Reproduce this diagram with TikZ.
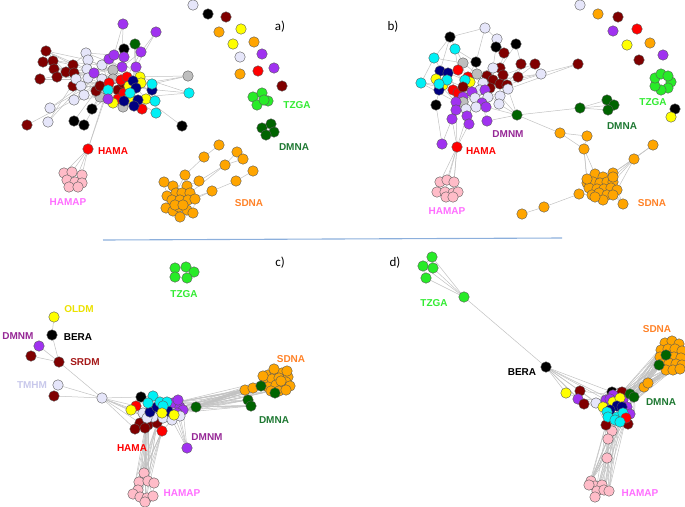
\documentclass[tikz,border=0pt]{standalone}
\usepackage{fontspec}
\setmainfont{Liberation Sans}
\newfontfamily\pnlfont{Carlito}
\usetikzlibrary{backgrounds}

\definecolor{dred}{RGB}{128,0,0}
\definecolor{lav}{RGB}{230,230,250}
\definecolor{purp}{RGB}{160,50,240}
\definecolor{navy}{RGB}{0,0,128}
\definecolor{cyn}{RGB}{0,240,245}
\definecolor{gry}{RGB}{190,190,190}
\definecolor{yel}{RGB}{255,255,0}
\definecolor{rd}{RGB}{255,0,0}
\definecolor{org}{RGB}{255,165,0}
\definecolor{grn}{RGB}{40,235,40}
\definecolor{dgrn}{RGB}{0,100,0}
\definecolor{pnk}{RGB}{255,188,200}
\definecolor{blk}{RGB}{0,0,0}
\definecolor{tHAMAP}{RGB}{255,110,255}
\definecolor{tTZGA}{RGB}{50,235,50}
\definecolor{tDMNA}{RGB}{30,120,50}
\definecolor{tSDNA}{RGB}{255,130,40}
\definecolor{tDMNM}{RGB}{150,40,150}
\definecolor{tSRDM}{RGB}{165,25,25}
\definecolor{tTMHM}{RGB}{200,200,235}
\definecolor{tOLDM}{RGB}{235,225,0}
\definecolor{sepblue}{RGB}{140,175,220}

\tikzset{
  nd/.style={circle, draw=black!65, line width=0.4pt, inner sep=0pt, minimum size=10.5pt},
  lnk/.style={black!24, line width=0.5pt},
  lbl/.style={font=\bfseries\fontsize{10}{12}\selectfont, inner sep=0pt},
  pnl/.style={font=\pnlfont\fontsize{13}{15}\selectfont, inner sep=0pt},
}

\begin{document}
\begin{tikzpicture}[x=1pt, y=-1pt]
\useasboundingbox (0,0) rectangle (685,506);

% ---------- a)
\foreach \n/\x/\y/\c in {1/123/24/purp, 2/156/32/purp, 3/124/49/blk, 4/135/44/dgrn, 5/141/52/purp,
  6/46/51/dred, 7/43/62/dred, 8/53/61/dred, 9/54/69/dred, 10/40/79/dred, 11/57/77/dred,
  12/66/72/dred, 13/73/65/dred, 14/74/73/dred, 15/73/86/dred, 16/86/53/lav, 17/88/60/lav,
  18/102/65/lav, 19/87/69/lav, 20/76/79/lav, 21/81/86/lav, 22/88/78/lav, 23/102/79/lav,
  24/74/100/lav, 25/84/95/lav, 26/50/108/lav, 27/48/122/lav, 28/27/125/dred, 29/92/109/blk,
  30/74/121/blk, 31/84/125/blk, 32/109/59/purp, 33/114/55/purp, 34/124/57/purp, 35/94/73/purp,
  36/122/67/purp, 37/136/67/purp, 38/113/70/gry, 39/113/79/gry, 40/100/97/gry, 41/123/107/gry,
  42/188/76/gry, 43/96/91/dred, 44/118/90/dred, 45/123/83/dred, 46/100/86/dred, 47/109/83/rd,
  48/121/80/rd, 49/127/77/rd, 50/118/99/rd, 51/124/93/rd, 52/142/109/rd, 53/140/77/yel,
  54/141/83/yel, 55/129/86/yel, 56/113/103/yel, 57/146/99/yel, 58/129/98/yel, 59/133/81/navy,
  60/152/90/navy, 61/136/88/navy, 62/124/101/navy, 63/138/100/navy, 64/134/106/navy,
  65/152/84/cyn, 66/108/90/cyn, 67/130/93/cyn, 68/155/101/cyn, 69/156/113/cyn, 70/189/93/cyn,
  71/108/99/purp, 73/182/126/blk, 74/88/149/rd}
  \node[nd, fill=\c] (a\n) at (\x,\y) {};
\foreach \n/\x/\y in {1/64/173, 2/72/172, 3/82/175, 4/67/180, 5/75/182, 6/82/183, 7/69/187, 8/78/187}
  \node[nd, fill=pnk] (ap\n) at (\x,\y) {};
\foreach \n/\x/\y/\c in {1/193/5/lav, 2/208/14/blk, 3/226/17/dred, 4/219/32/org, 5/241/29/yel,
  6/233/44/yel, 7/254/42/org, 8/240/57/lav, 9/262/54/purp, 10/240/74/org, 11/258/71/rd,
  12/274/68/purp, 13/282/86/dred}
  \node[nd, fill=\c] (ai\n) at (\x,\y) {};
\foreach \n/\x/\y in {1/253/97, 2/262/93, 3/268/101, 4/257/105, 5/264/100}
  \node[nd, fill=grn] (at\n) at (\x,\y) {};
\foreach \n/\x/\y in {1/262/128, 2/271/124, 3/274/132, 4/266/135}
  \node[nd, fill=dgrn] (ad\n) at (\x,\y) {};
\foreach \n/\x/\y in {1/164/182, 2/173/186, 3/199/181, 4/187/186, 5/167/196, 6/176/193, 7/182/193,
  8/190/193, 9/172/200, 10/180/200, 11/188/200, 12/195/199, 13/166/208, 14/173/211, 15/179/207,
  16/187/210, 17/193/213, 18/180/217, 19/175/205, 20/183/205}
  \node[nd, fill=org] (sa\n) at (\x,\y) {};
\foreach \n/\x/\y in {1/219/145, 2/204/157, 3/185/175, 4/237/152, 5/243/159, 6/225/165,
  7/253/171, 8/236/181, 9/212/191}
  \node[nd, fill=org] (sc\n) at (\x,\y) {};

\node[pnl] at (280,27) {a)};
\node[lbl, text=tTZGA] at (297,105) {TZGA};
\node[lbl, text=tDMNA] at (294,147) {DMNA};
\node[lbl, text=tSDNA] at (249,203) {SDNA};
\node[lbl, text=rd] at (113,151) {HAMA};
\node[lbl, text=tHAMAP] at (68,202) {HAMAP};

% ---------- b)
\foreach \n/\x/\y/\c in {1/485/28/lav, 2/497/39/lav, 3/450/37/blk, 4/496/47/blk, 5/516/44/blk,
  6/504/53/dred, 7/434/58/cyn, 8/455/49/cyn, 9/463/63/gry, 10/476/62/blk, 11/521/64/dred,
  12/535/64/dred, 13/578/64/dred, 14/541/74/lav, 15/518/77/dred, 16/487/76/dred, 17/500/68/dred,
  18/503/75/dred, 19/493/80/dred, 20/500/84/dred, 21/490/88/dred, 22/507/85/dred, 23/493/68/lav,
  24/508/89/lav, 25/440/71/navy, 26/448/73/navy, 28/436/79/yel, 29/421/83/cyn, 30/443/85/yel,
  31/439/90/navy, 27/447/80/cyn, 32/439/84/cyn, 33/458/70/rd, 34/468/77/rd, 35/470/82/yel,
  36/465/80/cyn, 37/453/90/rd, 38/458/93/rd, 39/463/87/dred, 40/477/74/gry, 41/483/83/lav,
  42/480/90/lav, 43/472/92/purp, 44/485/90/purp, 45/475/98/lav, 46/463/97/purp, 47/463/102/gry,
  48/456/102/purp, 49/488/97/lav, 50/500/96/lav, 51/482/103/purp, 52/476/107/lav, 53/466/109/lav,
  54/486/107/purp, 55/499/104/lav, 56/456/110/purp, 57/436/105/blk, 58/452/119/purp,
  59/467/116/purp, 60/469/124/purp, 61/487/121/purp, 62/517/115/dgrn, 63/580/108/dgrn,
  64/607/100/dgrn, 65/614/105/dgrn, 66/608/110/dgrn, 67/442/144/purp, 68/457/147/rd}
  \node[nd, fill=\c] (b\n) at (\x,\y) {};
\foreach \n/\x/\y in {1/440/182, 2/447/180, 3/454/182, 4/437/192, 5/445/192, 6/453/193,
  7/458/192, 8/446/197, 9/453/197}
  \node[nd, fill=pnk] (bp\n) at (\x,\y) {};
\foreach \n/\x/\y/\c in {1/580/5/lav, 2/598/14/org, 3/618/17/dred, 4/613/31/purp, 5/637/29/rd,
  6/627/45/yel, 7/650/43/org, 8/639/60/dred, 9/663/55/purp, 10/675/109/blk, 11/671/117/yel}
  \node[nd, fill=\c] (bi\n) at (\x,\y) {};
\foreach \n/\x/\y in {1/671/82, 2/668/88, 3/661/90, 4/655/86, 5/655/78, 6/661/74, 7/668/76}
  \node[nd, fill=grn] (bt\n) at (\x,\y) {};
\foreach \n/\x/\y in {1/595/174, 2/603/177, 3/613/173, 4/587/183, 5/593/182, 6/600/183,
  7/607/182, 8/613/182, 9/589/188, 10/597/189, 11/604/189, 12/611/188, 13/617/190, 14/592/195,
  15/599/193, 16/607/195, 17/613/195, 18/603/200, 19/595/197, 20/587/179, 21/613/177}
  \node[nd, fill=org] (bs\n) at (\x,\y) {};
\foreach \n/\x/\y in {1/560/133, 2/587/136, 3/584/149, 4/653/145, 5/634/159, 6/579/194,
  7/544/207, 8/522/214, 9/623/204}
  \node[nd, fill=org] (bo\n) at (\x,\y) {};

\node[pnl] at (393,27) {b)};
\node[lbl, text=tTZGA] at (653,102) {TZGA};
\node[lbl, text=tDMNA] at (622,126) {DMNA};
\node[lbl, text=tDMNM] at (508,134) {DMNM};
\node[lbl, text=rd] at (481,151) {HAMA};
\node[lbl, text=tHAMAP] at (447,211) {HAMAP};
\node[lbl, text=tSDNA] at (652,203) {SDNA};

\draw[sepblue, line width=1.1pt] (103,240) -- (562,238);

% ---------- c)
\foreach \n/\x/\y in {1/175/268, 2/186/267, 3/194/272, 4/175/277, 5/187/278}
  \node[nd, fill=grn] (ct\n) at (\x,\y) {};
\node[nd, fill=yel] (cOL) at (54,317) {};
\node[nd, fill=blk] (cBE) at (52,335) {};
\node[nd, fill=purp] (cDM) at (39,346) {};
\node[nd, fill=dred] (cR1) at (31,356) {};
\node[nd, fill=dred] (cSR) at (59,362) {};
\node[nd, fill=lav] (cTM) at (58,385) {};
\node[nd, fill=dred] (cR2) at (54,396) {};
\node[nd, fill=lav] (cHub) at (102,398) {};
\foreach \n/\x/\y/\c in {1/141/397/blk, 10/173/403/purp, 11/180/407/purp, 12/183/410/purp,
  13/177/413/purp, 31/178/400/purp, 23/140/423/dred, 24/148/425/dred, 25/157/423/dred,
  26/135/429/dred, 27/145/428/dred, 28/162/431/rd, 15/143/413/lav, 19/153/417/lav,
  20/147/418/lav, 21/163/418/lav, 22/172/420/lav, 32/180/416/lav, 14/150/412/navy,
  9/157/407/navy, 18/168/411/navy, 3/136/406/rd, 4/131/410/yel, 2/153/396/cyn, 5/148/403/cyn,
  6/160/402/cyn, 7/167/402/cyn, 8/163/406/cyn, 16/162/413/yel, 17/174/415/yel, 29/187/448/purp,
  30/196/407/dgrn}
  \node[nd, fill=\c] (m\n) at (\x,\y) {};
\foreach \n/\x/\y in {1/268/375, 2/275/372, 3/282/373, 4/288/377, 5/265/381, 6/272/379,
  7/279/378, 8/286/382, 9/268/387, 10/276/385, 11/283/388, 12/290/386, 13/271/391, 14/279/391,
  15/286/390, 16/274/369, 17/281/381, 18/263/376, 19/287/371}
  \node[nd, fill=org] (cs\n) at (\x,\y) {};
\node[nd, fill=org] (co1) at (245,390) {};
\node[nd, fill=org] (co2) at (253,388) {};
\foreach \n/\x/\y in {1/261/386, 2/275/393, 3/248/400, 4/251/406}
  \node[nd, fill=dgrn] (cg\n) at (\x,\y) {};
\foreach \n/\x/\y in {1/144/473, 2/139/482, 3/148/481, 4/154/483, 10/138/490, 5/133/494,
  6/140/497, 7/147/498, 8/153/496, 9/145/502}
  \node[nd, fill=pnk] (cp\n) at (\x,\y) {};

\node[pnl] at (280,263) {c)};
\node[lbl, text=tTZGA] at (184,294) {TZGA};
\node[lbl, text=tOLDM] at (79,309) {OLDM};
\node[lbl, text=blk] at (78,337) {BERA};
\node[lbl, text=tDMNM] at (18,336) {DMNM};
\node[lbl, text=tSRDM] at (85,362) {SRDM};
\node[lbl, text=tTMHM] at (32,385) {TMHM};
\node[lbl, text=tSDNA] at (291,359) {SDNA};
\node[lbl, text=tDMNA] at (274,420) {DMNA};
\node[lbl, text=tDMNM] at (207,437) {DMNM};
\node[lbl, text=rd] at (132,448) {HAMA};
\node[lbl, text=tHAMAP] at (182,493) {HAMAP};

% ---------- d)
\foreach \n/\x/\y in {1/432/257, 2/423/266, 3/433/268, 4/426/278, 5/464/297}
  \node[nd, fill=grn] (dg\n) at (\x,\y) {};
\node[nd, fill=blk] (dBE) at (546,367) {};
\node[nd, fill=yel] (dy) at (566,393) {};
\node[nd, fill=dred] (dr1) at (580,391) {};
\node[nd, fill=purp] (dpu) at (578,399) {};
\node[nd, fill=dred] (dr2) at (584,404) {};
\node[nd, fill=lav] (dlv) at (596,403) {};
\foreach \n/\x/\y in {1/612/431, 2/608/439, 3/607/458, 4/591/481, 5/595/486, 6/602/485,
  7/589/485, 8/597/491, 9/604/490, 10/609/491, 11/595/497}
  \node[nd, fill=pnk] (dp\n) at (\x,\y) {};
\foreach \n/\x/\y/\c in {23/606/425/dred, 24/628/424/dred, 1/612/392/blk, 2/620/393/lav,
  3/622/392/dred, 4/606/400/purp, 5/613/395/purp, 6/610/399/purp, 7/623/400/purp,
  8/627/407/purp, 25/630/414/purp, 9/603/407/yel, 10/613/402/yel, 11/620/398/yel,
  12/617/406/navy, 26/622/407/navy, 13/610/410/navy, 14/607/412/cyn, 15/608/417/cyn,
  16/617/417/cyn, 17/623/413/cyn, 18/626/418/rd, 19/615/420/cyn, 20/620/422/cyn,
  21/630/394/dgrn, 22/634/397/dgrn}
  \node[nd, fill=\c] (dm\n) at (\x,\y) {};
\node[nd, fill=org] (do1) at (644,387) {};
\node[nd, fill=org] (do2) at (648,383) {};
\foreach \n/\x/\y in {1/665/343, 2/672/341, 3/679/344, 4/661/350, 5/668/349, 6/675/349,
  7/682/351, 8/660/357, 9/667/356, 10/674/357, 11/681/358, 12/662/364, 13/669/363, 14/676/364,
  15/682/365, 16/666/370, 17/673/370, 18/680/369}
  \node[nd, fill=org] (ds\n) at (\x,\y) {};
\node[nd, fill=dgrn] (dd1) at (666,355) {};
\node[nd, fill=dgrn] (dd2) at (659,365) {};

\node[pnl] at (395,263) {d)};
\node[lbl, text=tTZGA] at (434,303) {TZGA};
\node[lbl, text=blk] at (522,372) {BERA};
\node[lbl, text=tSDNA] at (657,329) {SDNA};
\node[lbl, text=tDMNA] at (661,402) {DMNA};
\node[lbl, text=tHAMAP] at (640,493) {HAMAP};

% ---------- edges
\begin{pgfonlayer}{background}
\foreach \s/\t in {1/36, 1/33, 2/5, 2/37, 3/34, 3/36, 4/37, 5/36, 6/13, 6/17, 6/12, 7/14, 7/12,
  8/18, 8/13, 9/23, 10/14, 10/20, 11/22, 11/19, 12/19, 13/16, 14/38, 15/39, 16/33, 16/36,
  17/38, 18/47, 18/45, 19/38, 20/43, 21/39, 22/44, 24/40, 24/23, 25/38, 26/23, 26/21, 27/22,
  27/20, 28/24, 29/38, 29/44, 30/43, 31/40, 32/38, 35/48, 36/61, 37/59, 38/55, 39/61, 40/58,
  41/59, 41/63, 42/65, 42/55, 43/51, 44/59, 45/60, 47/63, 49/57, 50/64, 52/58, 52/63, 53/66,
  56/63, 57/67, 60/48, 62/54, 65/45, 66/54, 68/62, 69/51, 70/61, 70/50, 71/55, 71/38, 73/57,
  74/66, 74/47, 6/19, 7/22, 9/39, 13/45, 14/48, 17/49, 19/53, 21/55, 23/59, 25/62, 32/54,
  33/53, 35/60, 39/65, 40/64, 42/49, 43/67, 46/57, 70/53, 4/59, 5/49}
  \draw[lnk] (a\s) -- (a\t);
\foreach \t in {1,2,3,5} \draw[lnk] (a74) -- (ap\t);
\foreach \s/\t in {1/2, 2/3, 1/4, 4/5, 5/6, 4/7, 7/8, 3/6, 6/8, 2/5}
  \draw[lnk] (ap\s) -- (ap\t);
\foreach \s/\t in {1/2, 2/3, 3/4, 4/1, 5/1, 5/3, 1/3}
  \draw[lnk] (at\s) -- (at\t);
\foreach \s/\t in {1/2, 2/3, 3/4, 4/1, 1/3}
  \draw[lnk] (ad\s) -- (ad\t);
\foreach \s/\t in {1/2, 2/6, 1/5, 5/9, 6/10, 7/11, 8/12, 9/13, 10/15, 11/16, 13/14, 14/18,
  15/20, 16/17, 18/17, 19/7, 20/4, 2/12, 3/4, 4/8, 6/19, 9/19, 12/17}
  \draw[lnk] (sa\s) -- (sa\t);
\foreach \s/\t in {1/2, 2/3, 4/6, 5/6, 7/8, 8/9}
  \draw[lnk] (sc\s) -- (sc\t);
\foreach \s/\t in {3/4, 3/6, 6/3, 6/8, 9/12, 9/11}
  \draw[lnk] (sc\s) -- (sa\t);

\foreach \s/\t in {1/2, 1/3, 1/10, 2/4, 2/6, 3/7, 3/9, 4/6, 4/23, 5/11, 5/17, 6/17, 7/27, 7/9,
  8/10, 8/33, 9/40, 10/34, 11/15, 12/15, 12/18, 13/20, 13/24, 14/19, 14/22, 15/41, 16/40,
  17/41, 18/42, 19/44, 20/45, 21/47, 22/50, 23/40, 24/49, 25/28, 26/36, 27/39, 28/31, 29/30,
  29/37, 30/38, 31/57, 32/48, 33/39, 34/43, 35/46, 36/45, 37/56, 38/51, 39/44, 40/42, 41/49,
  42/52, 43/53, 44/55, 46/58, 47/59, 48/60, 50/62, 51/61, 53/60, 54/62, 55/62, 24/62, 62/63,
  63/64, 63/65, 63/66, 64/65, 65/66, 56/68, 58/68, 59/68, 60/68, 57/67, 58/67, 10/40, 16/21,
  23/44, 25/37, 26/38, 9/36, 11/22, 29/48, 33/47, 45/52, 49/54, 3/25, 7/29, 61/62}
  \draw[lnk] (b\s) -- (b\t);
\foreach \t in {1,2,3,5,6} \draw[lnk] (b68) -- (bp\t);
\foreach \s/\t in {1/2, 2/3, 1/4, 4/5, 5/6, 6/7, 3/7, 5/8, 8/9, 6/9, 2/5}
  \draw[lnk] (bp\s) -- (bp\t);
\foreach \s/\t in {1/2, 2/3, 3/4, 4/5, 5/6, 6/7, 7/1}
  \draw[lnk] (bt\s) -- (bt\t);
\foreach \s/\t in {1/2, 1/3, 2/3, 4/5, 7/6, 8/7}
  \draw[lnk] (bo\s) -- (bo\t);
\foreach \s/\t in {3/1, 3/4, 3/20, 5/3, 5/8, 5/13, 5/21, 4/3, 6/14, 6/9, 9/17, 9/13, 9/12}
  \draw[lnk] (bo\s) -- (bs\t);
\foreach \s/\t in {1/2, 2/3, 4/9, 5/10, 6/11, 7/12, 8/13, 9/14, 10/15, 11/16, 12/17, 14/19,
  15/18, 16/18, 20/5, 21/8, 1/6, 2/7}
  \draw[lnk] (bs\s) -- (bs\t);
\draw[lnk] (b62) -- (bo1);

\foreach \s/\t in {1/2, 2/3, 3/5, 1/4, 4/5, 2/5}
  \draw[lnk] (ct\s) -- (ct\t);
\draw[lnk] (cOL) -- (cBE);
\draw[lnk] (cBE) -- (cSR);
\draw[lnk] (cDM) -- (cSR);
\draw[lnk] (cR1) -- (cSR);
\draw[lnk] (cSR) -- (cHub);
\draw[lnk] (cTM) -- (cHub);
\draw[lnk] (cR2) -- (cHub);
\foreach \t in {1,3,4,15,20,26,23} \draw[lnk] (cHub) -- (m\t);
\foreach \s in {10,11,12,13,30}
  \foreach \t in {co1,co2,cg1,cs5,cs9,cs13,cg3,cg4}
    \draw[lnk] (m\s) -- (\t);
\foreach \s in {24,25,27,28}
  \foreach \t in {cp1,cp2,cp3,cp5,cp6,cp9}
    \draw[lnk] (m\s) -- (\t);
\foreach \s in {13,22,17,12,32} \draw[lnk] (m\s) -- (m29);
\foreach \s/\t in {1/2, 3/15, 4/20, 5/14, 9/16, 10/11, 12/13, 19/24, 21/25, 22/28, 23/27,
  26/27, 6/8, 7/18, 31/10, 32/12}
  \draw[lnk] (m\s) -- (m\t);
\foreach \s/\t in {1/2, 2/3, 3/4, 1/5, 5/6, 6/7, 7/8, 4/8, 9/10, 10/11, 11/12, 13/14, 14/15,
  16/2, 17/7, 18/5, 19/3}
  \draw[lnk] (cs\s) -- (cs\t);
\foreach \s/\t in {1/2, 2/3, 3/4, 4/8, 10/5, 5/6, 6/7, 7/8, 8/9, 9/6, 1/10, 3/8}
  \draw[lnk] (cp\s) -- (cp\t);

\foreach \t in {1,2,3,4} { \draw[lnk] (dg5) -- (dg\t); }
\draw[lnk] (dg1) -- (dg2);
\draw[lnk] (dg2) -- (dg4);
\draw[lnk] (dg1) -- (dg3);
\draw[lnk] (dBE) -- (dg5);
\foreach \t in {dy,dr1,dpu,dr2,dm4,dm6,dm9,dm1} \draw[lnk] (dBE) -- (\t);
\draw[lnk] (dy) -- (dm9);
\draw[lnk] (dr1) -- (dm5);
\draw[lnk] (dpu) -- (dm4);
\draw[lnk] (dr2) -- (dm9);
\draw[lnk] (dlv) -- (dm6);
\draw[lnk] (dr1) -- (dlv);
\draw[lnk] (617,406) circle[radius=18pt];
\draw[lnk] (618,405) circle[radius=16pt];
\foreach \s in {dm3,dm7,dm8,dm21,dm22,do1}
  \foreach \t in {ds1,ds4,ds8,ds12,ds16,ds17,ds14,dd2}
    \draw[lnk] (\s) -- (\t);
\draw[lnk] (do1) -- (do2);
\foreach \s in {dm15,dm16,dm19,dm20,dm18}
  \foreach \t in {dp4,dp7,dp11,dp10,dp9}
    \draw[lnk] (\s) -- (\t);
\draw[lnk] (dp1) -- (dp2);
\draw[lnk] (dp2) -- (dp3);
\foreach \t in {4,6,8,10} \draw[lnk] (dp3) -- (dp\t);
\end{pgfonlayer}

\end{tikzpicture}
\end{document}
